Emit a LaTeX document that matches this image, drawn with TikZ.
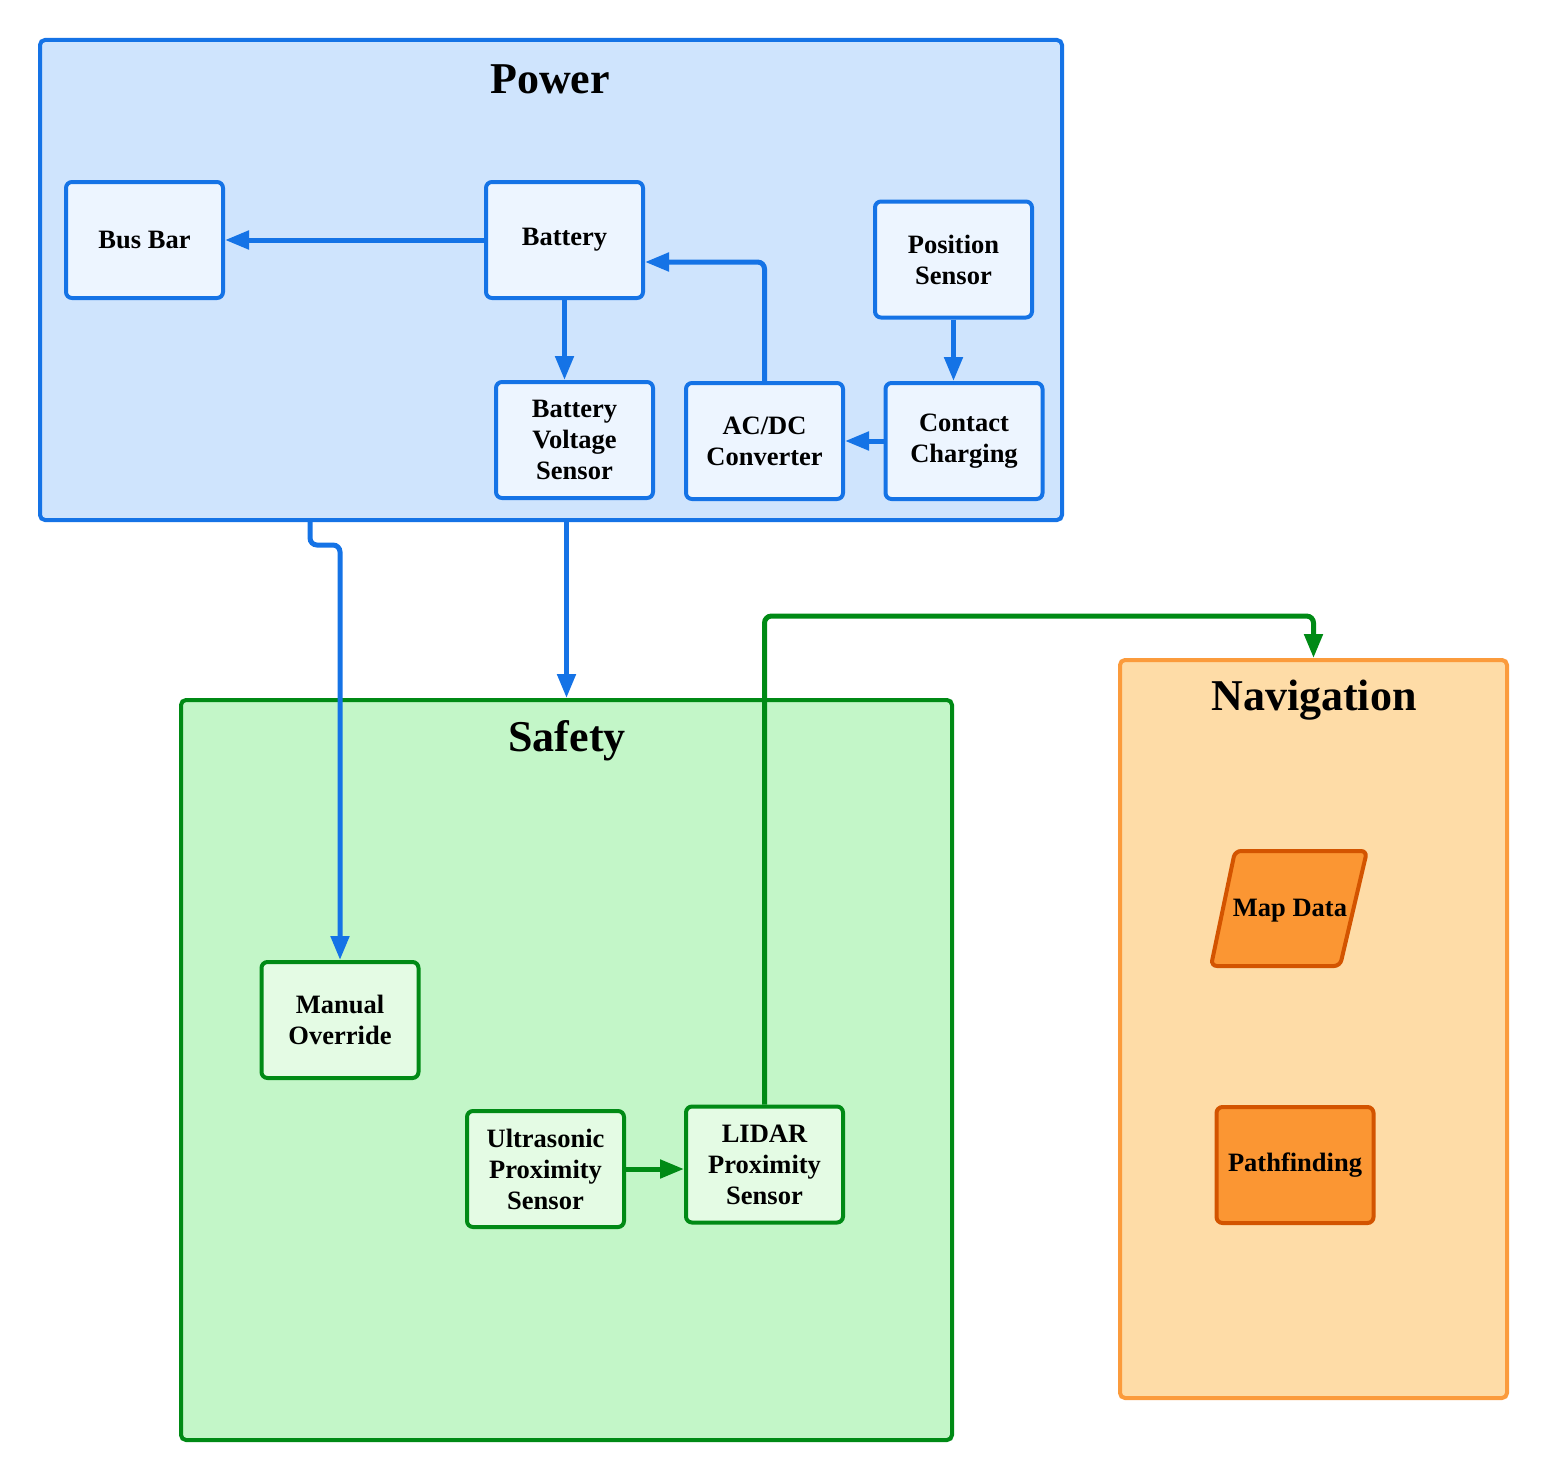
\documentclass[tikz,border=0pt]{standalone}
\usepackage{fontspec}
\setmainfont{Liberation Serif}
\usetikzlibrary{arrows.meta}
\definecolor{pblue}{HTML}{1573E6}
\definecolor{pfill}{HTML}{CFE4FD}
\definecolor{pnode}{HTML}{EDF5FF}
\definecolor{sgreen}{HTML}{008A15}
\definecolor{sfill}{HTML}{C3F6C8}
\definecolor{snode}{HTML}{E4FBE4}
\definecolor{norange}{HTML}{FB9B3C}
\definecolor{nfill}{HTML}{FEDCA7}
\definecolor{nnode}{HTML}{FB9633}
\definecolor{nstroke}{HTML}{D35400}
\tikzset{
  cluster/.style={draw, line width=4pt, rounded corners=5pt, inner sep=0pt},
  ctitle/.style={font=\bfseries\fontsize{44}{50}\selectfont, inner sep=0pt},
  nodefont/.style={font=\bfseries\fontsize{26.5}{31}\selectfont},
  box/.style={draw, line width=4pt, rounded corners=6pt, minimum width=157pt, minimum height=116pt,
    align=center, inner sep=2pt, nodefont},
  pbox/.style={box, draw=pblue, fill=pnode},
  sbox/.style={box, draw=sgreen, fill=snode},
  nbox/.style={box, draw=nstroke, fill=nnode},
  pe/.style={draw=pblue, line width=5pt, -{Triangle[length=24pt,width=18pt]}, rounded corners=7pt},
  se/.style={draw=sgreen, line width=5pt, -{Triangle[length=24pt,width=18pt]}, rounded corners=7pt},
}
\begin{document}
\begin{tikzpicture}[x=1pt,y=-1pt]
\useasboundingbox (0,0) rectangle (1548,1480);
% clusters
\node[cluster, draw=pblue, fill=pfill, minimum width=1022pt, minimum height=480pt] (power) at (551,280) {};
\node[ctitle] (powert) at (550,79) {Power};
\node[cluster, draw=sgreen, fill=sfill, minimum width=771pt, minimum height=740pt] (safety) at (566.5,1070) {};
\node[ctitle] (safetyt) at (567,741) {Safety};
\node[cluster, draw=norange, fill=nfill, minimum width=387pt, minimum height=738pt] (nav) at (1313.5,1029) {};
\node[ctitle] (navt) at (1314,700) {Navigation};
% power nodes
\node[pbox] (busbar) at (144.5,240) {Bus Bar};
\node[pbox] (battery) at (564.5,240) {Battery};
\node[pbox] (pos) at (953.5,259.5) {Position\\Sensor};
\node[pbox] (bvs) at (574.5,440) {Battery\\Voltage\\Sensor};
\node[pbox] (acdc) at (764.5,441) {AC/DC\\Converter};
\node[pbox] (contact) at (964,441) {Contact\\Charging};
% safety nodes
\node[sbox] (manual) at (340,1020) {Manual\\Override};
\node[sbox] (ultra) at (545.5,1169) {Ultrasonic\\Proximity\\Sensor};
\node[sbox] (lidar) at (764.5,1164.5) {LIDAR\\Proximity\\Sensor};
% navigation nodes
\draw[draw=nstroke, fill=nnode, line width=4pt, rounded corners=6pt]
  (1235,851) -- (1367,851) -- (1340,966) -- (1211,966) -- cycle;
\node[nodefont, inner sep=0pt] (map) at (1290,911) {Map Data};
\node[nbox] (path) at (1295,1165) {Pathfinding};
% edges
\draw[pe] (battery.west) -- (busbar.east);
\draw[pe] (acdc.north) |- ([yshift=-22pt]battery.east);
\draw[pe] (battery.south) -- (battery.south |- bvs.north);
\draw[pe] (pos.south) -- (pos.south |- contact.north);
\draw[pe] (contact.west) -- (acdc.east);
\draw[pe] ([xshift=-241pt]power.south) -- ++(0,23) -| (manual.north);
\draw[pe] (power.south -| safety.north) -- (safety.north);
\draw[se] (lidar.north) |- ([yshift=42pt]nav.north) -- (nav.north);
\draw[se] (ultra.east) -- (ultra.east -| lidar.west);
\end{tikzpicture}
\end{document}
